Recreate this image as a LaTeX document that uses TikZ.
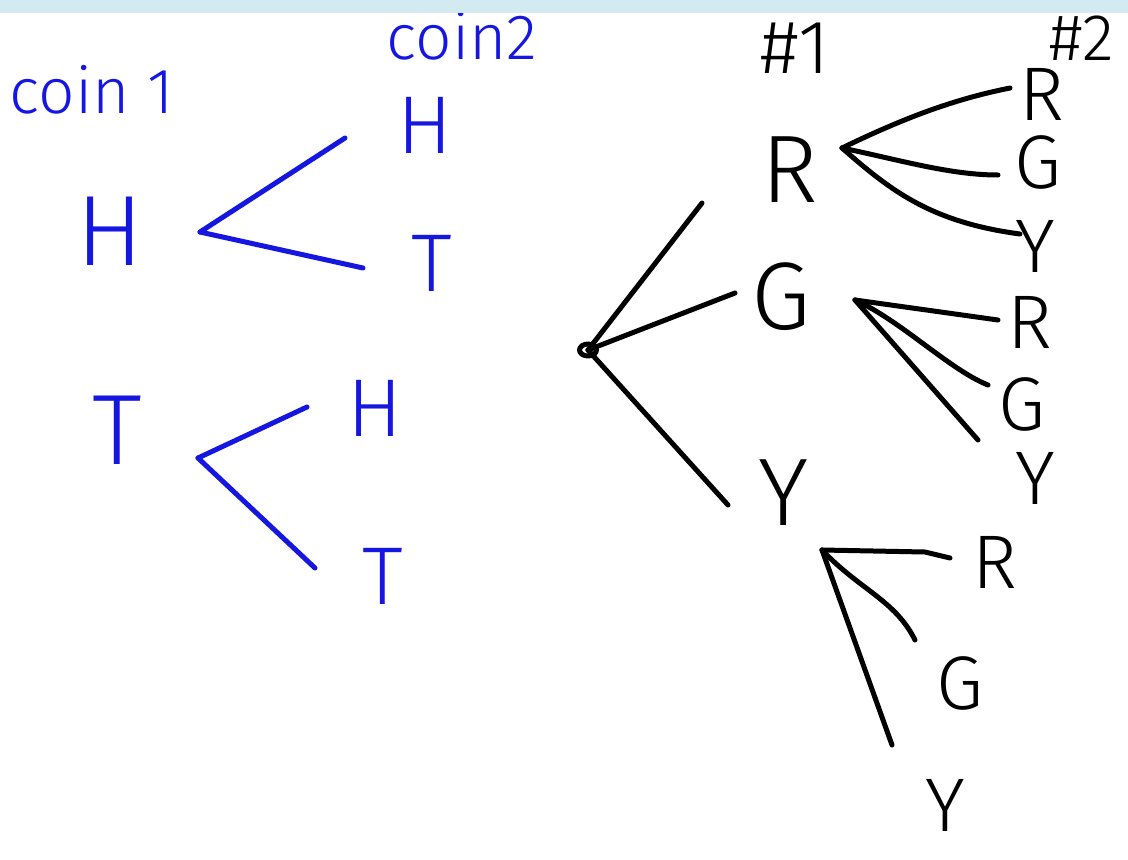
\documentclass[tikz,border=0pt]{standalone}
\usepackage{fontspec}
\usetikzlibrary{shapes.geometric}
\setmainfont{Fira Sans}[UprightFont={* Light}]
\definecolor{ink}{RGB}{22,22,225}
\definecolor{band}{RGB}{212,234,243}
\begin{document}
\begin{tikzpicture}[x=1pt,y=-1pt,line cap=round,line join=round,
  bl/.style={draw=ink,line width=5pt},
  bk/.style={draw=black,line width=5pt},
  lab/.style={inner sep=0pt,anchor=center},
  bigblue/.style={lab,text=ink,font=\fontsize{100}{100}\selectfont},
  midblue/.style={lab,text=ink,font=\fontsize{82}{82}\selectfont},
  headblue/.style={lab,text=ink,font=\fontsize{64}{64}\selectfont},
  bigblack/.style={lab,text=black,font=\fontsize{96}{96}\selectfont},
  numblack/.style={lab,text=black,font=\fontsize{76}{76}\selectfont},
  smallnum/.style={lab,text=black,font=\fontsize{66}{66}\selectfont},
  midblack/.style={lab,text=black,font=\fontsize{76}{76}\selectfont}]
\useasboundingbox (0,0) rectangle (1128,860);
\fill[white] (0,0) rectangle (1128,860);
% ---- coin tree (blue) ----
\node[headblue] (c1) at (92,90) {coin 1};
\node[headblue] (c2) at (462,36) {coin2};
\node[bigblue] (H) at (110,231) {H};
\node[bigblue] (T) at (117,430) {T};
\node[midblue] (HH) at (425,125) {H};
\node[midblue] (HT) at (432,263) {T};
\node[midblue] (TH) at (375,408) {H};
\node[midblue] (TT) at (383,576) {T};
\coordinate (hb) at (200,232);
\coordinate (tb) at (198,458);
\coordinate (eHH) at (345,138);
\coordinate (eHT) at (363,268);
\coordinate (eTH) at (307,407);
\coordinate (eTT) at (315,568);
\draw[bl] (hb) -- (eHH);
\draw[bl] (hb) -- (eHT);
\draw[bl] (tb) -- (eTH);
\draw[bl] (tb) -- (eTT);
% ---- marble tree (black) ----
\node[numblack] (n1) at (795,48) {\#1};
\node[smallnum] (n2) at (1082,38) {\#2};
\node[draw=black,line width=5pt,ellipse,inner sep=0pt,minimum width=17pt,minimum height=12pt] (root) at (588,350) {};
\node[bigblack] (R) at (790,170) {R};
\node[bigblack] (G) at (781,297) {G};
\node[bigblack] (Y) at (784,493) {Y};
\coordinate (eR) at (702,203);
\coordinate (eG) at (735,293);
\coordinate (eY) at (728,505);
\draw[bk] (root.center) -- (eR);
\draw[bk] (root.center) -- (eG);
\draw[bk] (root.center) -- (eY);
% second level from R
\coordinate (rb) at (842,148);
\node[midblack] (RR) at (1042,94) {R};
\node[midblack] (RG) at (1038,162) {G};
\node[midblack] (RY) at (1035,246) {Y};
\coordinate (eRR) at (1010,88);
\coordinate (eRG) at (998,175);
\coordinate (eRY) at (1020,234);
\draw[bk] (rb) .. controls (900,120) and (950,100) .. (eRR);
\draw[bk] (rb) .. controls (900,160) and (950,175) .. (eRG);
\draw[bk] (rb) .. controls (890,190) and (930,222) .. (eRY);
% second level from G
\coordinate (gb) at (855,300);
\node[midblack] (GR) at (1030,322) {R};
\node[midblack] (GG) at (1022,404) {G};
\node[midblack] (GY) at (1035,478) {Y};
\coordinate (eGR) at (998,320);
\coordinate (eGG) at (988,385);
\coordinate (eGY) at (978,440);
\draw[bk] (gb) -- (eGR);
\draw[bk] (gb) .. controls (900,320) and (950,370) .. (eGG);
\draw[bk] (gb) -- (eGY);
% second level from Y
\coordinate (yb) at (822,550);
\node[midblack] (YR) at (995,562) {R};
\node[midblack] (YG) at (960,683) {G};
\node[midblack] (YY) at (945,805) {Y};
\coordinate (eYR) at (950,558);
\coordinate (eYG) at (915,640);
\coordinate (eYY) at (892,745);
\draw[bk] (yb) -- (925,552) -- (eYR);
\draw[bk] (yb) .. controls (860,590) and (895,600) .. (eYG);
\draw[bk] (yb) -- (eYY);
% top band
\fill[band] (0,0) rectangle (1128,13);
\end{tikzpicture}
\end{document}
